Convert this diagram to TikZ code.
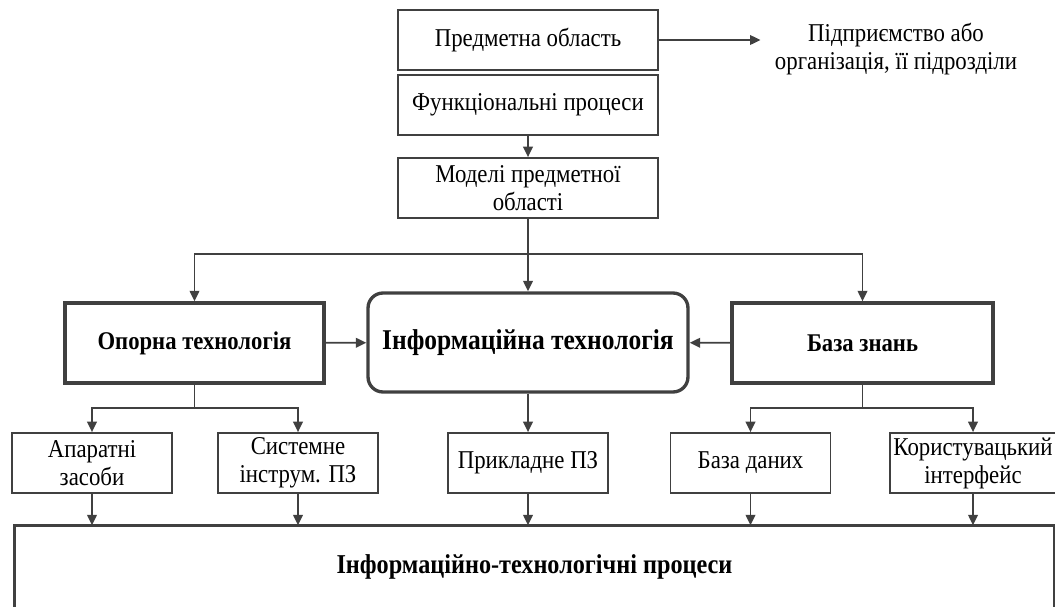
\documentclass[tikz,border=0pt]{standalone}
\usepackage{fontspec}
\setmainfont{Liberation Serif}[FakeStretch=0.89]
\usetikzlibrary{positioning, arrows.meta}
\definecolor{LineGray}{RGB}{64, 64, 64}

\begin{document}
\begin{tikzpicture}[
    x=0.02cm, y=-0.02cm,
    plain/.style={rectangle, draw=LineGray, line width=1pt, align=center, font=\fontsize{14.6}{16}\selectfont, inner sep=2pt},
    topbox/.style={plain, minimum width=5.2cm, minimum height=1.2cm},
    subbox/.style={plain, minimum width=3.2cm, minimum height=1.2cm},
    main/.style={rectangle, draw=LineGray, line width=1.9pt, align=center, font=\bfseries\fontsize{14.5}{16}\selectfont, minimum height=1.6cm},
    arrow/.style={-{Triangle[length=6pt,width=5.5pt]}, line width=1pt, LineGray},
    link/.style={line width=1pt, LineGray}
  ]
    \useasboundingbox (0,0) rectangle (1055,606);

    % upper column
    \node[topbox] (pred) at (528,40) {Предметна область};
    \node[topbox] (func) at (528,105) {Функціональні процеси};
    \node[topbox] (model) at (528,188) {Моделі предметної\\області};
    \node[align=center, font=\fontsize{14.6}{15.5}\selectfont, inner sep=8pt] (org) at (896,49) {Підприємство або\\організація, її підрозділи};

    % middle row
    \node[main, minimum width=5.18cm] (opora) at (194.5,343) {Опорна технологія};
    \node[main, rounded corners=0.3cm, minimum width=6.4cm, minimum height=1.98cm,
          font=\bfseries\fontsize{16.3}{18}\selectfont] (info) at (528,342.5) {Інформаційна технологія};
    \node[main, minimum width=5.22cm] (baza) at (862.5,343) {База знань};

    % lower row
    \node[subbox] (aparat) at (92,463) {Апаратні\\засоби};
    \node[subbox] (sistem) at (298,463) {Системне\\інструм. ПЗ};
    \node[subbox] (prykl) at (528,463) {Прикладне ПЗ};
    \node[subbox] (bd) at (750.5,463) {База даних};
    \node[subbox] (korys) at (973,463) {Користувацький\\інтерфейс};
    % bottom box runs off the page: no lower edge
    \node[main, draw=none, minimum width=20.74cm, minimum height=1.6cm,
          font=\bfseries\fontsize{15.5}{17}\selectfont] (itp) at (534.5,567) {Інформаційно-технологічні процеси};
    \draw[LineGray, line width=1.9pt] (itp.south west) -- (itp.north west) -- (itp.north east) -- (itp.south east);

    \coordinate (split) at (528,254);
    \coordinate (osplit) at (194.5,408);
    \coordinate (bsplit) at (862.5,408);

    \draw[arrow] (pred.east) -- (pred.east -| org.west);
    \draw[arrow] (func) -- (model);
    \draw[link] (model) -- (split);
    \draw[arrow] (split) -- (info);
    \draw[arrow] (split) -| (opora);
    \draw[arrow] (split) -| (baza);
    \draw[arrow] (opora) -- (info);
    \draw[arrow] (baza) -- (info);

    \draw[link] (opora) -- (osplit);
    \draw[arrow] (osplit) -| (aparat);
    \draw[arrow] (osplit) -| (sistem);
    \draw[arrow] (info) -- (prykl);
    \draw[link] (baza) -- (bsplit);
    \draw[arrow] (bsplit) -| (bd);
    \draw[arrow] (bsplit) -| (korys);

    \foreach \n in {aparat, sistem, prykl, bd, korys}
      \draw[arrow] (\n) -- (\n |- itp.north);
  \end{tikzpicture}
\end{document}
